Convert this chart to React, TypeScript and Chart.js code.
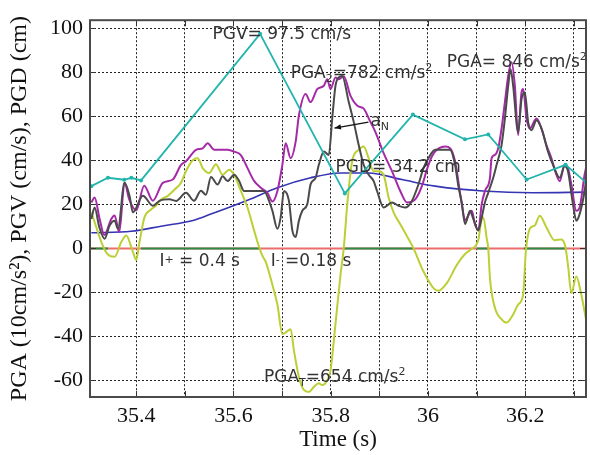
import React, { useEffect, useRef } from 'react';
import { Chart, registerables } from 'chart.js';

Chart.register(...registerables);

const X_MIN = 35.305;
const X_MAX = 36.325;
const Y_MIN = -67.5;
const Y_MAX = 103.7;

const xTickValues = [35.4, 35.5, 35.6, 35.7, 35.8, 35.9, 36.0, 36.1, 36.2, 36.3];
const xTickLabels = ['35.4', '', '35.6', '', '35.8', '', '36', '', '36.2', ''];
const yTickValues = [-60, -40, -20, 0, 20, 40, 60, 80, 100];
const yTickLabels = ['-60', '-40', '-20', '0', '20', '40', '60', '80', '100'];

// PGV (cyan polyline)
const pgvT = [35.3078, 35.342, 35.3754, 35.39, 35.41, 35.6547, 35.829, 35.969, 36.076, 36.124, 36.203, 36.283, 36.325];
const pgvV = [28.3, 32.1, 31.2, 32.1, 30.9, 97.5, 25.0, 60.8, 49.6, 51.8, 31.3, 38.0, 30.0];

// PGD (blue)
const pgdT = [35.3078, 35.3898, 35.4512, 35.5189, 35.5537, 35.6289, 35.6904, 35.7587, 35.8201, 35.8775, 35.9465, 36.0148, 36.1131, 36.2156, 36.3262];
const pgdV = [7.1, 7.8, 10.1, 12.8, 15.6, 21.9, 27.6, 32.1, 34.3, 34.3, 31.3, 28.3, 26.1, 25.3, 25.6];

// magenta acceleration
const magT = [35.3078, 35.3145, 35.3248, 35.3344, 35.3488, 35.3555, 35.3652, 35.376, 35.3857, 35.4, 35.4164, 35.4342, 35.4547, 35.4752, 35.4922, 35.5025, 35.523, 35.5367, 35.5469, 35.5605, 35.5742, 35.5879, 35.6014, 35.6152, 35.6289, 35.6424, 35.6561, 35.6699, 35.6801, 35.6904, 35.7006, 35.7074, 35.7176, 35.7279, 35.7346, 35.7484, 35.7586, 35.7723, 35.7859, 35.7928, 35.7996, 35.8098, 35.8166, 35.8268, 35.8406, 35.8543, 35.8678, 35.8816, 35.8918, 35.9088, 35.926, 35.943, 35.9568, 35.9738, 35.9875, 35.9977, 36.008, 36.0182, 36.0352, 36.0455, 36.0557, 36.0695, 36.0762, 36.09, 36.0967, 36.1035, 36.1105, 36.1172, 36.1275, 36.1309, 36.1377, 36.1445, 36.1514, 36.1582, 36.165, 36.1719, 36.1787, 36.1854, 36.1924, 36.1957, 36.2027, 36.2094, 36.2232, 36.2334, 36.2436, 36.2539, 36.2641, 36.2709, 36.2811, 36.2879, 36.2949, 36.3051, 36.3119, 36.3221, 36.3289];
const magV = [20.9, 23.1, 13.4, 6.1, 13.4, 15.0, 7.4, 29.8, 22.3, 17.3, 28.5, 21.7, 29.8, 31.3, 38.0, 39.6, 44.8, 45.5, 47.8, 44.8, 44.8, 44.8, 44.0, 42.4, 36.5, 30.7, 27.6, 25.3, 21.3, 26.1, 38.0, 47.8, 41.0, 48.5, 60.4, 70.2, 66.5, 72.4, 73.9, 76.9, 72.4, 77.7, 76.9, 78.2, 69.4, 64.9, 63.5, 57.5, 53.0, 43.3, 35.1, 26.1, 20.9, 22.3, 28.3, 35.8, 41.8, 44.8, 46.3, 45.5, 39.6, 20.1, 12.8, 17.1, 11.1, 8.2, 20.1, 26.1, 32.1, 41.0, 42.5, 45.5, 54.5, 66.5, 78.4, 84.6, 73.9, 51.5, 70.9, 72.4, 59.0, 54.5, 59.0, 54.5, 47.0, 41.0, 33.5, 30.6, 38.0, 36.5, 29.1, 17.1, 18.6, 33.5, 40.3];

// a_N (dark gray)
const grayT = [35.3078, 35.3145, 35.3242, 35.335, 35.3453, 35.3555, 35.3625, 35.376, 35.3863, 35.3932, 35.4137, 35.4342, 35.4477, 35.4682, 35.482, 35.5025, 35.5189, 35.5332, 35.5434, 35.5537, 35.5674, 35.5777, 35.5879, 35.6014, 35.6117, 35.6219, 35.6424, 35.6629, 35.6732, 35.6801, 35.6904, 35.6971, 35.7039, 35.7141, 35.7211, 35.7279, 35.7346, 35.7416, 35.7518, 35.7586, 35.7689, 35.7756, 35.7859, 35.7961, 35.8031, 35.8098, 35.8166, 35.8236, 35.8371, 35.8473, 35.8576, 35.8678, 35.8781, 35.8883, 35.8953, 35.9088, 35.926, 35.9395, 35.9533, 35.967, 35.9805, 35.9908, 36.001, 36.0148, 36.0352, 36.0455, 36.0557, 36.0625, 36.0695, 36.0762, 36.0865, 36.0932, 36.1035, 36.1105, 36.1172, 36.124, 36.1342, 36.1412, 36.1514, 36.1582, 36.165, 36.1699, 36.1752, 36.1854, 36.1924, 36.1992, 36.206, 36.2129, 36.2232, 36.2334, 36.2469, 36.2572, 36.2709, 36.2811, 36.2879, 36.2982, 36.3051, 36.3119, 36.3221, 36.3289];
const grayV = [13.4, 18.6, 9.6, 4.4, 10.4, 12.6, 8.9, 29.8, 23.9, 16.4, 23.9, 19.4, 21.6, 22.3, 21.6, 25.3, 21.7, 26.2, 24.4, 32.5, 29.1, 32.8, 30.6, 33.5, 30.6, 26.1, 26.1, 26.1, 21.6, 17.1, 8.9, 14.1, 26.1, 21.6, 8.2, 5.2, 12.6, 17.1, 20.1, 29.1, 32.1, 38.0, 44.0, 42.5, 59.0, 73.9, 77.7, 78.4, 66.5, 57.5, 47.0, 38.0, 33.5, 30.6, 26.1, 18.6, 20.9, 19.4, 18.6, 21.6, 29.1, 36.5, 41.0, 44.8, 44.8, 44.8, 38.0, 28.3, 20.9, 11.1, 17.1, 13.4, 8.2, 14.1, 20.9, 25.3, 32.1, 38.0, 47.0, 59.0, 73.9, 81.4, 73.9, 53.0, 67.9, 70.9, 57.5, 53.7, 58.2, 54.5, 44.0, 38.0, 32.1, 37.3, 35.1, 20.1, 12.6, 15.6, 26.1, 38.0];

// yellow-green acceleration
const yelT = [35.3078, 35.318, 35.3283, 35.3406, 35.3555, 35.3693, 35.3795, 35.3932, 35.4, 35.4068, 35.417, 35.4307, 35.441, 35.4512, 35.465, 35.4785, 35.4922, 35.5025, 35.5162, 35.5264, 35.5367, 35.5502, 35.5639, 35.5777, 35.5912, 35.6014, 35.6152, 35.6289, 35.6424, 35.6527, 35.6596, 35.6664, 35.6801, 35.6904, 35.7006, 35.7074, 35.7176, 35.7244, 35.7346, 35.7449, 35.7551, 35.7654, 35.7756, 35.7826, 35.7928, 35.7996, 35.8098, 35.8201, 35.8268, 35.8344, 35.8441, 35.8576, 35.8678, 35.8781, 35.8883, 35.8986, 35.9088, 35.9191, 35.9293, 35.943, 35.9568, 35.9703, 35.9908, 36.0113, 36.0215, 36.0387, 36.0592, 36.0762, 36.09, 36.1035, 36.1105, 36.1139, 36.1209, 36.124, 36.1275, 36.1377, 36.1514, 36.1617, 36.1752, 36.1854, 36.1957, 36.2012, 36.2094, 36.2197, 36.2299, 36.2436, 36.2607, 36.2744, 36.2826, 36.2879, 36.2949, 36.3051, 36.3154, 36.3256];
const yelV = [16.4, 9.6, 2.9, -2.5, -3.8, 2.9, 5.9, -1.6, -5.2, 2.9, 14.1, 17.7, 19.5, 22.2, 23.9, 26.7, 29.8, 35.2, 40.1, 41.0, 36.5, 34.3, 38.3, 33.5, 35.8, 33.5, 26.1, 18.6, 8.2, 0.7, -3.4, -6.1, -16.5, -25.5, -38.9, -38.2, -36.7, -46.4, -58.4, -64.3, -65.2, -62.9, -61.3, -62.1, -59.9, -55.4, -34.4, -12.0, 0.0, 20.9, 39.6, 44.8, 46.3, 41.0, 35.1, 35.1, 33.5, 23.1, 16.4, 11.0, 5.6, 0.0, -10.5, -18.0, -19.2, -15.8, -7.5, -2.5, -0.2, 3.8, 13.4, 14.1, 4.4, 0.0, -13.5, -27.0, -32.2, -33.7, -30.0, -25.5, -21.0, -1.6, 8.9, 10.4, 14.9, 9.6, 3.7, 4.1, 0.7, -7.5, -20.3, -12.8, -21.0, -33.0];

// zero line: red baseline with green intervals
const greenStart = [35.305, 35.41, 35.8269, 36.1002, 36.1971];
const greenEnd = [35.342, 35.6547, 35.9703, 36.124, 36.2846];

type Part = [string, 'n' | 'sub' | 'sup' | 'mid'];
const notes: { t: number; v: number; parts: Part[] }[] = [
  { t: 35.557, v: 95.3, parts: [['PGV= 97.5 cm/s', 'n']] },
  { t: 35.7176, v: 77.4, parts: [['PGA', 'n'], ['2', 'sub'], ['=782 cm/s', 'n'], ['2', 'sup']] },
  { t: 36.0387, v: 82.5, parts: [['PGA= 846 cm/s', 'n'], ['2', 'sup']] },
  { t: 35.8098, v: 34.8, parts: [['PGD= 34.2 cm', 'n']] },
  { t: 35.4477, v: -7.8, parts: [['I', 'n'], ['+', 'mid'], [' = 0.4 s', 'n']] },
  { t: 35.6766, v: -7.8, parts: [['I', 'n'], ['-', 'mid'], [' =0.18 s', 'n']] },
  { t: 35.6629, v: -60.8, parts: [['PGA', 'n'], ['T', 'sub'], ['=654 cm/s', 'n'], ['2', 'sup']] },
  { t: 35.8816, v: 55.6, parts: [['a', 'n'], ['N', 'sub']] },
];
const arrowFrom = { t: 35.8775, v: 57.4 };
const arrowTo = { t: 35.8078, v: 54.7 };

const SERIF = "'Liberation Serif', 'Times New Roman', serif";
const SANS = "'DejaVu Sans', Verdana, sans-serif";
const GREEN = '#2e8b45';
const RED = '#ee6c6c';

const pts = (t: number[], v: number[]) => t.map((x, i) => ({ x, y: v[i] }));

const framePlugin = {
  id: 'frameAndNotes',
  beforeDatasetsDraw(chart: any) {
    // zero baseline: red across the axis, green where the pulse intervals are
    const { ctx, chartArea: a, scales } = chart;
    const xs = scales.x;
    const y0 = scales.y.getPixelForValue(0);
    ctx.save();
    ctx.beginPath();
    ctx.rect(a.left, a.top, a.right - a.left, a.bottom - a.top);
    ctx.clip();
    ctx.lineWidth = 2;
    ctx.setLineDash([]);
    ctx.strokeStyle = RED;
    ctx.beginPath();
    ctx.moveTo(xs.getPixelForValue(X_MIN), y0);
    ctx.lineTo(xs.getPixelForValue(X_MAX), y0);
    ctx.stroke();
    ctx.strokeStyle = GREEN;
    greenStart.forEach((s, i) => {
      ctx.beginPath();
      ctx.moveTo(xs.getPixelForValue(s), y0);
      ctx.lineTo(xs.getPixelForValue(greenEnd[i]), y0);
      ctx.stroke();
    });
    ctx.restore();
  },
  afterDatasetsDraw(chart: any) {
    const { ctx, chartArea: a, scales } = chart;
    const xs = scales.x;
    const ys = scales.y;
    ctx.save();
    ctx.fillStyle = '#333';
    ctx.textBaseline = 'alphabetic';
    notes.forEach((n) => {
      let px = xs.getPixelForValue(n.t);
      const py = ys.getPixelForValue(n.v);
      n.parts.forEach(([txt, kind]) => {
        let size = 17;
        let dy = 0;
        if (kind === 'sub') { size = 11; dy = 4; }
        if (kind === 'sup') { size = 11; dy = -7; }
        if (kind === 'mid') { size = 11; dy = -3; }
        ctx.font = `${size}px ${SANS}`;
        ctx.fillText(txt, px, py + dy);
        px += ctx.measureText(txt).width;
      });
    });
    const x1 = xs.getPixelForValue(arrowFrom.t);
    const y1 = ys.getPixelForValue(arrowFrom.v);
    const x2 = xs.getPixelForValue(arrowTo.t);
    const y2 = ys.getPixelForValue(arrowTo.v);
    ctx.strokeStyle = '#111';
    ctx.fillStyle = '#111';
    ctx.lineWidth = 1.3;
    ctx.beginPath();
    ctx.moveTo(x1, y1);
    ctx.lineTo(x2, y2);
    ctx.stroke();
    const ang = Math.atan2(y2 - y1, x2 - x1);
    ctx.beginPath();
    ctx.moveTo(x2, y2);
    ctx.lineTo(x2 - 7 * Math.cos(ang - 0.4), y2 - 7 * Math.sin(ang - 0.4));
    ctx.lineTo(x2 - 7 * Math.cos(ang + 0.4), y2 - 7 * Math.sin(ang + 0.4));
    ctx.closePath();
    ctx.fill();
    ctx.strokeStyle = '#333';
    ctx.lineWidth = 1;
    ctx.setLineDash([]);
    xTickValues.forEach((v) => {
      const p = Math.round(xs.getPixelForValue(v)) + 0.5;
      ctx.beginPath();
      ctx.moveTo(p, a.bottom); ctx.lineTo(p, a.bottom - 6);
      ctx.moveTo(p, a.top); ctx.lineTo(p, a.top + 6);
      ctx.stroke();
    });
    yTickValues.forEach((v) => {
      const p = Math.round(ys.getPixelForValue(v)) + 0.5;
      ctx.beginPath();
      ctx.moveTo(a.left, p); ctx.lineTo(a.left + 6, p);
      ctx.moveTo(a.right, p); ctx.lineTo(a.right - 6, p);
      ctx.stroke();
    });
    ctx.strokeStyle = '#4a4a4a';
    ctx.lineWidth = 2;
    ctx.strokeRect(a.left, a.top, a.right - a.left, a.bottom - a.top);
    ctx.restore();
  },
};

export default function App() {
  const ref = useRef<HTMLCanvasElement>(null);
  useEffect(() => {
    const canvas = ref.current;
    if (!canvas) return;
    const chart = new Chart(canvas, {
      type: 'line',
      data: {
        datasets: [
          { data: pts(pgvT, pgvV), borderColor: '#22b5ae', backgroundColor: '#22b5ae', borderWidth: 1.8, pointRadius: 2, pointBorderWidth: 0, tension: 0 },
          { data: pts(grayT, grayV), borderColor: '#4a4a4a', borderWidth: 2, pointRadius: 0, cubicInterpolationMode: 'monotone' },
          { data: pts(magT, magV), borderColor: '#a52aa8', borderWidth: 2, pointRadius: 0, cubicInterpolationMode: 'monotone' },
          { data: pts(yelT, yelV), borderColor: '#bccf35', borderWidth: 2, pointRadius: 0, cubicInterpolationMode: 'monotone' },
          { data: pts(pgdT, pgdV), borderColor: '#3434b4', borderWidth: 1.6, pointRadius: 0, cubicInterpolationMode: 'monotone' },
        ] as any,
      },
      options: {
        animation: false,
        responsive: false,
        maintainAspectRatio: false,
        devicePixelRatio: 1,
        layout: { padding: { top: 15, right: 4, left: 0, bottom: 0 } },
        plugins: { legend: { display: false }, tooltip: { enabled: false } },
        scales: {
          x: {
            type: 'linear',
            min: X_MIN,
            max: X_MAX,
            afterBuildTicks: (s: any) => { s.ticks = xTickValues.map((value) => ({ value })); },
            afterFit: (s: any) => { s.height = 58; },
            ticks: {
              autoSkip: false,
              maxRotation: 0,
              padding: 6,
              color: '#111',
              font: { family: SERIF, size: 22 },
              callback: (_v: any, i: number) => xTickLabels[i] ?? '',
            },
            grid: { color: '#222', lineWidth: 1, drawTicks: false },
            border: { display: false, dash: [2, 2] },
            title: { display: true, text: 'Time (s)', color: '#111', font: { family: SERIF, size: 23 }, padding: { top: 0, bottom: 1 } },
          },
          y: {
            type: 'linear',
            min: Y_MIN,
            max: Y_MAX,
            afterBuildTicks: (s: any) => { s.ticks = yTickValues.map((value) => ({ value })); },
            afterFit: (s: any) => { s.width = 90; },
            ticks: {
              autoSkip: false,
              padding: 7,
              color: '#111',
              font: { family: SERIF, size: 22 },
              callback: (_v: any, i: number) => yTickLabels[i] ?? '',
            },
            grid: { color: '#222', lineWidth: 1, drawTicks: false },
            border: { display: false, dash: [2, 2] },
            title: { display: true, text: 'PGA (10cm/s²), PGV (cm/s), PGD (cm)', color: '#111', font: { family: SERIF, size: 24 }, padding: { top: 5, bottom: 0 } },
          },
        },
      } as any,
      plugins: [framePlugin],
    });
    return () => chart.destroy();
  }, []);
  return (
    <div style={{ position: 'fixed', left: 0, top: 0, width: 590, height: 455, background: '#fff' }}>
      <canvas ref={ref} width={590} height={455} style={{ display: 'block', width: 590, height: 455 }} />
    </div>
  );
}
